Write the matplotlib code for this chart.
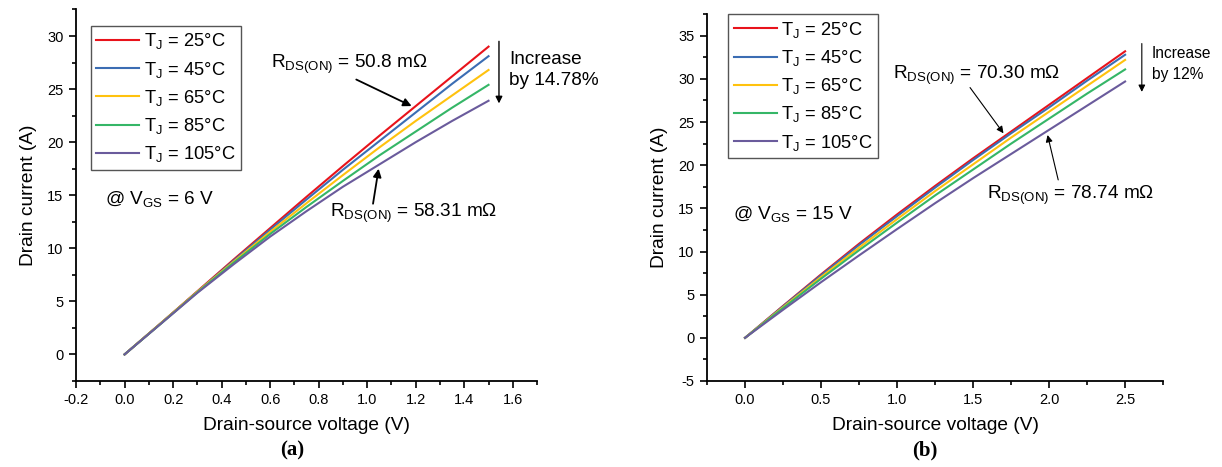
import numpy as np
import matplotlib
matplotlib.use("Agg")
import matplotlib.pyplot as plt
from matplotlib.ticker import MultipleLocator, FormatStrFormatter

plt.rcParams['font.family'] = ['Liberation Sans', 'DejaVu Sans']
plt.rcParams['mathtext.default'] = 'regular'
plt.rcParams['axes.unicode_minus'] = False

# region Data
temps = ["25", "45", "65", "85", "105"]
colors = ["#E8131B", "#3B6DB3", "#FFC20E", "#35B667", "#6A5B9C"]

vds_a = [0.0, 0.15, 0.3, 0.45, 0.6, 0.75, 0.9, 1.05, 1.2, 1.35, 1.5]
id_a = {
    "25": [0.0, 2.95, 5.95, 8.95, 11.9, 14.85, 17.75, 20.6, 23.4, 26.2, 29.0],
    "45": [0.0, 2.95, 5.9, 8.85, 11.75, 14.6, 17.4, 20.1, 22.8, 25.5, 28.1],
    "65": [0.0, 2.95, 5.9, 8.75, 11.55, 14.25, 16.9, 19.5, 22.0, 24.4, 26.8],
    "85": [0.0, 2.9, 5.85, 8.65, 11.35, 13.9, 16.35, 18.75, 21.0, 23.25, 25.4],
    "105": [0.0, 2.9, 5.8, 8.5, 11.1, 13.5, 15.8, 17.9, 20.0, 22.0, 23.9],
}

vds_b = [0.0, 0.25, 0.5, 0.75, 1.0, 1.25, 1.5, 1.75, 2.0, 2.25, 2.5]
id_b = {
    "25": [0.0, 3.7, 7.35, 10.9, 14.3, 17.6, 20.8, 23.9, 27.0, 30.1, 33.2],
    "45": [0.0, 3.65, 7.25, 10.75, 14.1, 17.4, 20.6, 23.7, 26.7, 29.8, 32.8],
    "65": [0.0, 3.55, 7.05, 10.45, 13.75, 17.0, 20.1, 23.2, 26.2, 29.2, 32.2],
    "85": [0.0, 3.45, 6.85, 10.15, 13.35, 16.5, 19.5, 22.5, 25.4, 28.3, 31.1],
    "105": [0.0, 3.25, 6.45, 9.55, 12.6, 15.6, 18.5, 21.3, 24.1, 26.9, 29.7],
}
# endregion

FS_LABEL = 13.8
FS_NOTE = 13.7


def style_axes(ax, xlim, ylim, xmaj, xmin, ymaj, ymin):
    ax.set_xlim(*xlim)
    ax.set_ylim(*ylim)
    ax.spines['top'].set_visible(False)
    ax.spines['right'].set_visible(False)
    for s in ('left', 'bottom'):
        ax.spines[s].set_linewidth(1.3)
    ax.xaxis.set_major_locator(MultipleLocator(xmaj))
    ax.xaxis.set_minor_locator(MultipleLocator(xmin))
    ax.yaxis.set_major_locator(MultipleLocator(ymaj))
    ax.yaxis.set_minor_locator(MultipleLocator(ymin))
    ax.xaxis.set_major_formatter(FormatStrFormatter('%.1f'))
    ax.tick_params(which='major', direction='out', length=5, width=1.2,
                   labelsize=10.5, pad=4)
    ax.tick_params(which='minor', direction='out', length=3, width=1.2)
    ax.set_xlabel("Drain-source voltage (V)", fontsize=FS_LABEL, labelpad=7)
    ax.set_ylabel("Drain current (A)", fontsize=FS_LABEL, labelpad=7)


def draw_curves(ax, vds, ids, anchor):
    for t, c in zip(temps, colors):
        ax.plot(vds, ids[t], color=c, lw=1.5, label=f"T$_J$ = {t}°C")
    leg = ax.legend(loc='upper left', bbox_to_anchor=anchor, borderaxespad=0,
                    fontsize=13.2, handlelength=2.35, fancybox=False,
                    edgecolor='#555555', framealpha=1, borderpad=0.3,
                    labelspacing=0.45, handletextpad=0.25)
    leg.get_frame().set_linewidth(1.0)


fig = plt.figure(figsize=(12.22, 4.67), dpi=100)
ax1 = fig.add_axes([0.0622, 0.1842, 0.3773, 0.7955])
ax2 = fig.add_axes([0.5786, 0.1842, 0.3732, 0.7854])

arrow_a = dict(arrowstyle='-|>', color='black', lw=1.3, shrinkA=0, shrinkB=0,
               mutation_scale=12)
arrow_b = dict(arrowstyle='-|>', color='black', lw=0.8, shrinkA=0, shrinkB=0,
               mutation_scale=10)

# panel (a)
draw_curves(ax1, vds_a, id_a, (0.032, 0.956))
style_axes(ax1, (-0.2, 1.7), (-2.5, 32.5), 0.2, 0.1, 5, 2.5)
ax1.text(0.604, 27.3, "R$_{DS(ON)}$ = 50.8 mΩ", fontsize=FS_NOTE, va='center')
ax1.annotate("", xy=(1.183, 23.4), xytext=(0.955, 25.9), arrowprops=arrow_a)
ax1.text(0.845, 13.3, "R$_{DS(ON)}$ = 58.31 mΩ", fontsize=FS_NOTE, va='center')
ax1.annotate("", xy=(1.047, 17.5), xytext=(1.024, 14.2), arrowprops=arrow_a)
ax1.annotate("", xy=(1.543, 23.65), xytext=(1.543, 29.5),
             arrowprops=dict(arrow_a, lw=1.0, mutation_scale=10))
ax1.text(1.586, 26.8, "Increase\nby 14.78%", fontsize=FS_NOTE, va='center',
         linespacing=1.33)
ax1.text(-0.08, 14.6, "@ V$_{GS}$ = 6 V", fontsize=FS_NOTE, va='center')
fig.text(0.2387, 0.0364, "(a)", fontsize=15, fontweight='bold',
         family='Liberation Serif', ha='center', va='center')

# panel (b)
draw_curves(ax2, vds_b, id_b, (0.046, 1.0))
style_axes(ax2, (-0.25, 2.75), (-5, 37.5), 0.5, 0.25, 5, 2.5)
ax2.text(0.974, 30.4, "R$_{DS(ON)}$ = 70.30 mΩ", fontsize=FS_NOTE, va='center')
ax2.annotate("", xy=(1.70, 23.7), xytext=(1.48, 29.0), arrowprops=arrow_b)
ax2.text(1.59, 16.5, "R$_{DS(ON)}$ = 78.74 mΩ", fontsize=FS_NOTE, va='center')
ax2.annotate("", xy=(1.99, 23.5), xytext=(2.06, 18.3), arrowprops=arrow_b)
ax2.annotate("", xy=(2.61, 28.5), xytext=(2.61, 34.1), arrowprops=arrow_b)
ax2.text(2.675, 31.75, "Increase\nby 12%", fontsize=11.2, va='center',
         linespacing=1.5)
ax2.text(-0.077, 14.4, "@ V$_{GS}$ = 15 V", fontsize=FS_NOTE, va='center')
fig.text(0.757, 0.0364, "(b)", fontsize=15, fontweight='bold',
         family='Liberation Serif', ha='center', va='center')

fig.savefig("out.png", dpi=100)
